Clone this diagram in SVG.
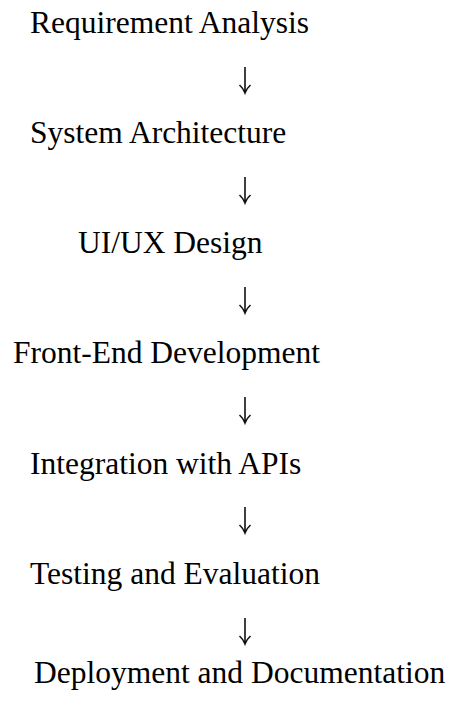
<svg xmlns="http://www.w3.org/2000/svg" width="449" height="703" viewBox="0 0 449 703">
<style>
.t{font-family:"Liberation Serif","Times New Roman",serif;font-size:31.5px;fill:#000}
.c{fill:none;stroke:#111;stroke-width:1.6;stroke-linejoin:miter}
</style>
<defs>
<path id="arr" d="M0 0 V26 M-5.5 18 Q-2 21 0 26 Q2 21 5.5 18"/>
</defs>
<rect width="449" height="703" fill="#fff"/>
<g id="n1"><text class="t" x="30" y="33">Requirement Analysis</text></g>
<g id="n2"><text class="t" x="30" y="143">System Architecture</text></g>
<g id="n3"><text class="t" x="78" y="253">UI/UX Design</text></g>
<g id="n4"><text class="t" x="13" y="363">Front-End Development</text></g>
<g id="n5"><text class="t" x="30" y="474">Integration with APIs</text></g>
<g id="n6"><text class="t" x="30" y="584">Testing and Evaluation</text></g>
<g id="n7"><text class="t" x="34" y="683">Deployment and Documentation</text></g>
<g id="connectors" class="c">
<use href="#arr" x="245" y="67"/>
<use href="#arr" x="245" y="177"/>
<use href="#arr" x="245" y="287"/>
<use href="#arr" x="245" y="397"/>
<use href="#arr" x="245" y="507"/>
<use href="#arr" x="245" y="618"/>
</g>
</svg>
